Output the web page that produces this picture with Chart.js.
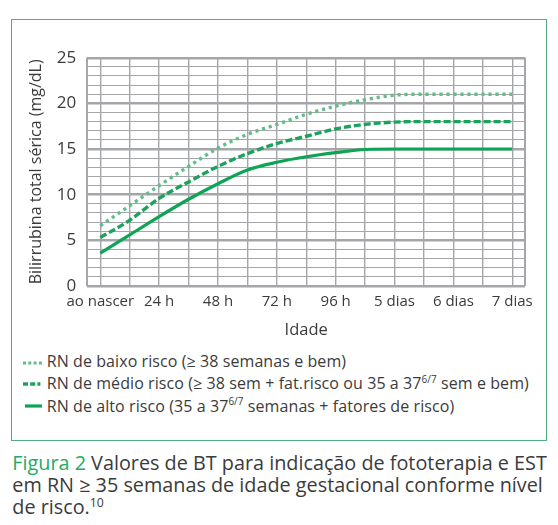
<!DOCTYPE html>
<html><head><meta charset="utf-8">
<script src="https://cdn.jsdelivr.net/npm/chart.js@4.4.1/dist/chart.umd.min.js"></script>
<style>
html,body{margin:0;padding:0;background:#fff;width:558px;height:525px;overflow:hidden;font-family:'Open Sans',sans-serif;color:#3b3b3b}
#box{position:absolute;left:11px;top:19.25px;width:534px;height:419.5px;border:1.5px solid #4fae7c;}
#c{position:absolute;left:0;top:0;width:558px;height:345px}
.lg{position:absolute;left:46.7px;font-size:16px;line-height:22px;white-space:nowrap}
.mk{position:absolute;left:0;width:50px;height:12px}
.cap{position:absolute;left:12.3px;font-size:17px;line-height:22px;white-space:nowrap}
sup{font-size:62%;vertical-align:baseline;position:relative;top:-0.62em;line-height:0}
.fig{color:#22ab66}
</style></head>
<body>
<div id="box"></div>
<canvas id="c" width="558" height="345"></canvas>
<svg class="mk" style="top:357px;left:0" width="50" height="12">
  <line x1="23" y1="6" x2="42" y2="6" stroke="#62bd89" stroke-width="3" stroke-dasharray="3,2.3"/>
</svg>
<svg class="mk" style="top:377.5px;left:0" width="50" height="12">
  <line x1="23" y1="6" x2="42" y2="6" stroke="#1ba35d" stroke-width="3.4" stroke-dasharray="5,2.2,5,2.2,3,50"/>
</svg>
<svg class="mk" style="top:400px;left:0" width="50" height="12">
  <line x1="25" y1="6" x2="42" y2="6" stroke="#0ea456" stroke-width="3.2"/>
</svg>
<div class="lg" id="lg1" data-w="300" style="top:350.1px"></div>
<div class="lg" id="lg2" data-w="481" style="top:372.1px"></div>
<div class="lg" id="lg3" style="top:394.5px"></div>
<div class="cap" id="cap1" data-b="470.7"><span class="fig">Figura 2</span> Valores de BT para indicação de fototerapia e EST</div>
<div class="cap" id="cap2" data-b="492.7">em RN ≥ 35 semanas de idade gestacional conforme nível</div>
<div class="cap" id="cap3" data-b="515">de risco.<sup>10</sup></div>
<script>
// ---- data ----
const ageHours   = [0, 12, 24, 36, 48, 60, 72, 84, 96, 108, 120, 132, 144, 156, 168];
const lowRisk    = [6.6, 8.8, 11.0, 13.1, 15.1, 16.6, 17.7, 18.8, 19.7, 20.4, 20.9, 21.0, 21.0, 21.0, 21.0];
const mediumRisk = [5.3, 7.2, 9.6, 11.4, 13.1, 14.5, 15.6, 16.4, 17.2, 17.7, 17.95, 18.0, 18.0, 18.0, 18.0];
const highRisk   = [3.6, 5.6, 7.6, 9.5, 11.2, 12.7, 13.55, 14.15, 14.6, 14.95, 15.0, 15.0, 15.0, 15.0, 15.0];
const tickHours  = [0, 24, 48, 72, 96, 120, 144, 168];
const tickLabels = ['ao nascer', '24 h', '48 h', '72 h', '96 h', '5 dias', '6 dias', '7 dias'];
const yTicksMajor = [0, 5, 10, 15, 20, 25];
const seriesNames = [
  'RN de baixo risco (≥ 38 semanas e bem)',
  'RN de médio risco (≥ 38 sem + fat.risco ou 35 a 37<sup>6/7</sup> sem e bem)',
  'RN de alto risco (35 a 37<sup>6/7</sup> semanas + fatores de risco)'
];
const yTitle = 'Bilirrubina total sérica (mg/dL)';
const xTitle = 'Idade';

document.getElementById('lg1').innerHTML = seriesNames[0];
document.getElementById('lg2').innerHTML = seriesNames[1];
document.getElementById('lg3').innerHTML = seriesNames[2];

// legend: fit widths with small letter-spacing
let lgSpacing = 0, cnt = 0;
['lg1', 'lg2'].forEach(id => {
  const el = document.getElementById(id);
  const w = el.getBoundingClientRect().width;
  lgSpacing += (parseFloat(el.dataset.w) - w) / (el.textContent.length - 1); cnt++;
});
lgSpacing /= cnt;
['lg1', 'lg2', 'lg3'].forEach(id => document.getElementById(id).style.letterSpacing = lgSpacing + 'px');

// caption: fit width of line 1 by font size
const c1 = document.getElementById('cap1');
const capFs = 17 * 535 / c1.getBoundingClientRect().width;
['cap1', 'cap2', 'cap3'].forEach(id => {
  const el = document.getElementById(id);
  el.style.fontSize = capFs + 'px';
  el.style.top = (parseFloat(el.dataset.b) - 11 - 0.388 * capFs) + 'px';
});

const toPts = arr => ageHours.map((h, i) => ({x: h, y: arr[i]}));
const xMin = -5.3, xMax = 173.2;
const gridColor = '#a4a6a9';
const font = "'Open Sans', sans-serif";

new Chart(document.getElementById('c'), {
  type: 'line',
  data: {
    datasets: [
      {label: 'baixo', data: toPts(lowRisk), borderColor: '#62bd89', borderWidth: 3.4, borderDash: [3.2, 3.8], borderCapStyle: 'butt', pointRadius: 0, cubicInterpolationMode: 'monotone', fill: false},
      {label: 'médio', data: toPts(mediumRisk), borderColor: '#1ba35d', borderWidth: 3.4, borderDash: [7, 3], pointRadius: 0, cubicInterpolationMode: 'monotone', fill: false},
      {label: 'alto', data: toPts(highRisk), borderColor: '#0ea456', borderWidth: 3.2, pointRadius: 0, cubicInterpolationMode: 'monotone', fill: false}
    ]
  },
  options: {
    responsive: false,
    devicePixelRatio: 1,
    animation: false,
    layout: {padding: {top: 57.7, right: 33, left: 0, bottom: 0}},
    plugins: {legend: {display: false}, tooltip: {enabled: false}},
    scales: {
      x: {
        type: 'linear', min: xMin, max: xMax,
        afterBuildTicks: s => { s.ticks = [xMin, ...ageHours, xMax].map(v => ({value: v})); },
        afterFit: s => { s.height = 59; },
        border: {display: false},
        grid: {color: gridColor, drawTicks: false, lineWidth: c => (c.tick && (c.tick.value < 0 || c.tick.value > 168)) ? 2 : 1.4},
        ticks: {
          autoSkip: false, maxRotation: 0, minRotation: 0, padding: 7,
          color: '#3b3b3b', font: {family: font, size: 15},
          callback: v => { const i = tickHours.indexOf(v); return i >= 0 ? tickLabels[i] : ''; }
        },
        title: {display: true, text: xTitle, color: '#3b3b3b', font: {family: font, size: 16.5}, padding: {top: 0, bottom: 5}}
      },
      y: {
        min: 0, max: 25,
        afterFit: s => { s.width = 87.3; },
        border: {display: false},
        grid: {color: gridColor, drawTicks: false, lineWidth: c => (c.tick && yTicksMajor.includes(c.tick.value)) ? 2.4 : 1.1},
        ticks: {
          stepSize: 1, autoSkip: false, padding: 11,
          color: '#3b3b3b', font: {family: font, size: 17},
          callback: v => yTicksMajor.includes(v) ? String(v) : ''
        },
        title: {display: true, text: yTitle, color: '#3b3b3b', font: {family: font, size: 16}, padding: {top: 27, bottom: 0}}
      }
    }
  }
});
</script>
</body></html>
